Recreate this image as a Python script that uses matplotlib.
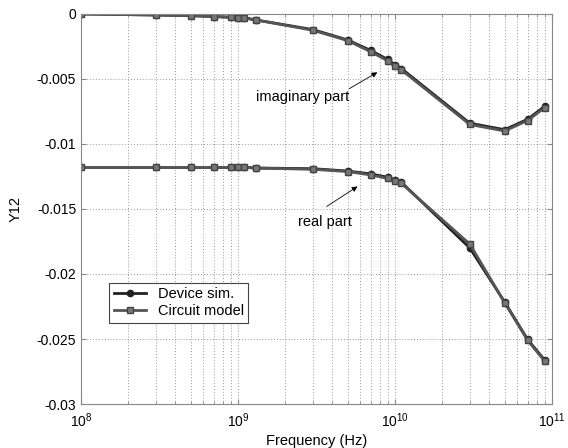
"""Y12 of device simulation vs. circuit model, real and imaginary parts."""

import math

import matplotlib

matplotlib.use("Agg")

import matplotlib.pyplot as plt
from matplotlib.ticker import FuncFormatter, LogLocator, MultipleLocator

plt.rcParams["font.family"] = ["Liberation Sans", "DejaVu Sans"]
plt.rcParams["mathtext.fontset"] = "custom"
plt.rcParams["mathtext.rm"] = "Liberation Sans"
plt.rcParams["mathtext.it"] = "Liberation Sans:italic"

freq = [1e8, 3e8, 5e8, 7e8, 9e8, 1e9, 1.1e9, 1.3e9, 3e9, 5e9, 7e9, 9e9,
        1e10, 1.1e10, 3e10, 5e10, 7e10, 9e10]

imag_device = [0.0, -0.00008, -0.00013, -0.0002, -0.00025, -0.0003, -0.0003,
               -0.00046, -0.0012, -0.002, -0.0028, -0.0035, -0.0039, -0.0042,
               -0.0084, -0.0089, -0.0081, -0.0071]
imag_circuit = [0.0, -0.00008, -0.00013, -0.0002, -0.00025, -0.0003, -0.0003,
                -0.00046, -0.00125, -0.00205, -0.0029, -0.0036, -0.0040, -0.0043,
                -0.0085, -0.0090, -0.0082, -0.0072]

real_device = [-0.0118, -0.0118, -0.0118, -0.0118, -0.0118, -0.0118, -0.0118,
               -0.01185, -0.0119, -0.01208, -0.0123, -0.01256, -0.01277, -0.01295,
               -0.0180, -0.02215, -0.02503, -0.02662]
real_circuit = [-0.0118, -0.0118, -0.0118, -0.0118, -0.0118, -0.0118, -0.0118,
                -0.01185, -0.01195, -0.01212, -0.01238, -0.01265, -0.01285, -0.01303,
                -0.0177, -0.0222, -0.0251, -0.0267]


def decade_label(value, _pos):
    return "$10^{%d}$" % round(math.log10(value))


def main() -> None:
    fig = plt.figure(figsize=(5.68, 4.48), dpi=100)
    # right edge pulled in a few px so the 10^11 label is not cut off
    ax = fig.add_axes([0.1426, 0.0982, 0.829, 0.8706])

    dev_style = dict(color="#222222", lw=2.0, marker="o", ms=4.5,
                     mfc="#222222", mec="#222222")
    cir_style = dict(color="#555555", lw=2.0, marker="s", ms=4.5,
                     mfc="#777777", mec="#444444")

    ax.plot(freq, imag_device, label="Device sim.", **dev_style)
    ax.plot(freq, imag_circuit, label="Circuit model", **cir_style)
    ax.plot(freq, real_device, **dev_style)
    ax.plot(freq, real_circuit, **cir_style)

    ax.set_xscale("log")
    ax.set_xlim(1e8, 1e11)
    ax.set_ylim(-0.03, 0)
    ax.yaxis.set_major_locator(MultipleLocator(0.005))
    ax.yaxis.set_major_formatter(
        FuncFormatter(lambda v, _: "0" if abs(v) < 1e-12 else f"{v:g}")
    )
    ax.xaxis.set_major_locator(LogLocator(base=10, numticks=10))
    ax.xaxis.set_minor_locator(LogLocator(base=10, subs=range(2, 10), numticks=10))
    ax.xaxis.set_major_formatter(FuncFormatter(decade_label))

    ax.grid(True, which="both", axis="x", ls=(0, (1, 2)), color="#999999", lw=0.7)
    ax.grid(True, which="major", axis="y", ls=(0, (1, 2)), color="#999999", lw=0.7)
    ax.set_axisbelow(True)

    for spine in ax.spines.values():
        spine.set_color("#888888")
    ax.tick_params(which="both", direction="in", colors="#888888",
                   labelcolor="black", labelsize=10, top=True, right=True)
    ax.tick_params(which="minor", length=2)
    ax.tick_params(axis="x", pad=5)

    ax.set_xlabel("Frequency (Hz)", fontsize=10.5, labelpad=3)
    ax.set_ylabel("Y12", fontsize=10.5, labelpad=10)

    arrow = dict(arrowstyle="-|>", color="black", lw=0.6, mutation_scale=8)
    ax.annotate("", xy=(8.0e9, -0.00438), xytext=(4.95e9, -0.00585),
                arrowprops=arrow)
    ax.text(1.30e9, -0.00638, "imaginary part", fontsize=10.5, va="center")
    ax.annotate("", xy=(5.98e9, -0.01315), xytext=(3.55e9, -0.01492),
                arrowprops=arrow)
    ax.text(2.4e9, -0.0160, "real part", fontsize=10.5, va="center")

    leg = ax.legend(loc="lower left", bbox_to_anchor=(0.045, 0.19), fontsize=10.5,
                    fancybox=False, framealpha=1, edgecolor="#444444",
                    handlelength=2.2, borderpad=0.3, labelspacing=0.2)
    leg.get_frame().set_linewidth(0.8)

    fig.savefig("out.png", dpi=100)
    plt.close(fig)


if __name__ == "__main__":
    main()
